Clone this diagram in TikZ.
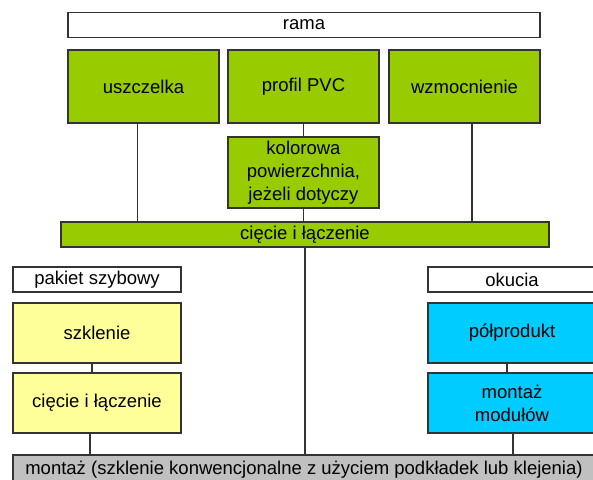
\documentclass[tikz,border=0pt]{standalone}
\usepackage{fontspec}
\setmainfont{Liberation Sans}
\usepackage{tikz}

\definecolor{zielony}{HTML}{99CC00}
\definecolor{zolty}{HTML}{FFFF99}
\definecolor{niebieski}{HTML}{00CCFF}
\definecolor{szary}{HTML}{C0C0C0}
\definecolor{ramka}{HTML}{333333}

\begin{document}
\begin{tikzpicture}[
	x=1pt, y=-1pt,
	box/.style={draw=ramka, line width=1.2pt, align=center, inner sep=0pt,
		font=\fontsize{18.5}{23}\selectfont},
	head/.style={box, fill=white, minimum height=25pt},
	gBox/.style={box, fill=zielony, minimum width=151pt},
	yBox/.style={box, fill=zolty, minimum width=168pt, minimum height=60pt},
	cBox/.style={box, fill=niebieski, minimum width=168pt, minimum height=60pt},
	link/.style={draw=ramka, line width=1.1pt}
]
\useasboundingbox (0, 0) rectangle (593, 479);

% Rama
\node [head, minimum width=472pt] (rama) at (304, 25) {rama};
\node [gBox, minimum height=73pt] (uszczelka) at (143.5, 86.5) {uszczelka};
\node [gBox, minimum height=73pt] (profil) at (303.5, 86.5) {profil PVC};
\node [gBox, minimum height=73pt] (wzmoc) at (464.5, 86.5) {wzmocnienie};
\node [gBox, minimum height=71pt] (kolor) at (303.5, 172.5) {kolorowa\\powierzchnia,\\jeżeli dotyczy};
\node [gBox, minimum width=488pt, minimum height=25pt] (ciecie) at (305, 234.5) {cięcie i łączenie};

\draw [link] ([xshift=-6pt]uszczelka.south) -- ([xshift=-6pt]uszczelka.south |- ciecie.north);
\draw [link] (profil.south) -- (kolor.north);
\draw [link] (kolor.south) -- (kolor.south |- ciecie.north);
\draw [link] ([xshift=7.5pt]wzmoc.south) -- ([xshift=7.5pt]wzmoc.south |- ciecie.north);

% Pakiet szybowy
\node [head, minimum width=168pt] (pakiet) at (97, 279.5) {pakiet szybowy};
\node [yBox] (szklenie) at (97, 333) {szklenie};
\node [yBox] (ciecieSz) at (97, 403) {cięcie i łączenie};
\draw [link] ([xshift=-5pt]szklenie.south) -- ([xshift=-5pt]ciecieSz.north);

% Okucia
\node [head, minimum width=168pt] (okucia) at (512, 279.5) {okucia};
\node [cBox] (polprod) at (512, 333) {półprodukt};
\node [cBox] (modul) at (512, 403) {montaż\\modułów};
\draw [link] ([xshift=-5pt]polprod.south) -- ([xshift=-5pt]modul.north);

% Montaz
\node [box, fill=szary, minimum width=582pt, minimum height=30pt] (montaz) at (304, 470)
	{montaż (szklenie konwencjonalne z użyciem podkładek lub klejenia)};

\draw [link] ([xshift=-7pt]ciecieSz.south) -- ([xshift=-7pt]ciecieSz.south |- montaz.north);
\draw [link] (ciecie.south) -- (ciecie.south |- montaz.north);
\draw [link] ([xshift=1pt]modul.south) -- ([xshift=1pt]modul.south |- montaz.north);
\end{tikzpicture}
\end{document}
